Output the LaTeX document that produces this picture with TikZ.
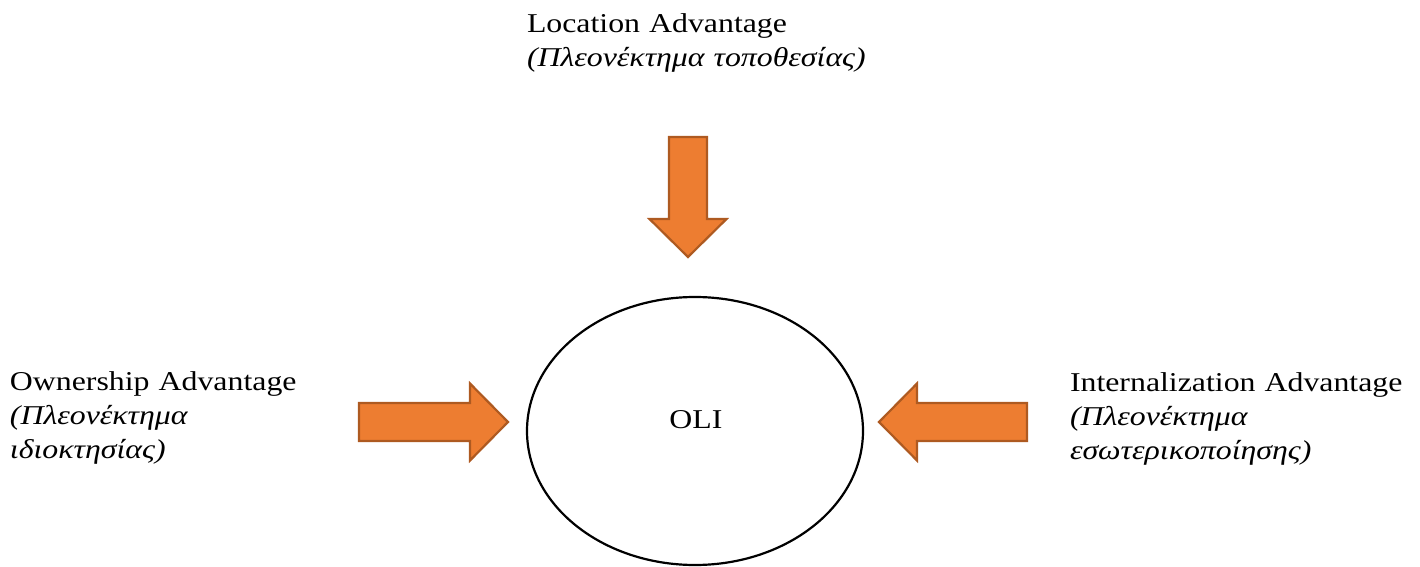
\documentclass[tikz,border=0pt]{standalone}
\usepackage{fontspec}
\setmainfont[FakeStretch=1.17]{Liberation Serif}
\usetikzlibrary{calc,positioning,shapes.geometric}
\definecolor{arrfill}{RGB}{237,125,49}
\definecolor{arrline}{RGB}{174,90,33}

\begin{document}
\begin{tikzpicture}
    [x=0.5pt,y=-0.5pt,
     font=\fontsize{13.6}{17}\selectfont,
     lbl/.style={inner sep=0,outer sep=0,anchor=base west,
                 align=left,text width=200pt},
     blk/.style={fill=arrfill,draw=arrline,line width=1.1pt},
     oval/.style={ellipse,draw,line width=1.1pt,minimum width=168pt,
                  minimum height=134pt,inner sep=0}]
    \def\blockarrow#1#2{%
      \coordinate (h) at ($(#2)!19pt!(#1)$);
      \draw[blk] ($(#1)!9.5pt!90:(#2)$) -- ($(h)!9.5pt!90:(#2)$)
        -- ($(h)!19.25pt!90:(#2)$) -- (#2) -- ($(h)!19.25pt!-90:(#2)$)
        -- ($(h)!9.5pt!-90:(#2)$) -- ($(#1)!9.5pt!-90:(#2)$) -- cycle;}

    \useasboundingbox (0,0) rectangle (1420,567);

    \node[oval] (oli) at (695,431) {};
    \node[inner sep=0,anchor=base] (olitxt) at (696,428) {OLI};

    \node[lbl] (loc) at (527,33)
      {Location Advantage\\\itshape(Πλεονέκτημα τοποθεσίας)};
    \node[lbl] (own) at (10,390)
      {Ownership Advantage\\\itshape(Πλεονέκτημα\\\itshape ιδιοκτησίας)};
    \node[lbl] (int) at (1070,391)
      {Internalization Advantage\\\itshape(Πλεονέκτημα\\\itshape εσωτερικοποίησης)};

    \coordinate (ltail) at (688,137);
    \coordinate (ltip)  at (688,257);
    \coordinate (otail) at (359,422);
    \coordinate (otip)  at (508,422);
    \coordinate (itail) at (1027,422);
    \coordinate (itip)  at (879,422);

    \blockarrow{ltail}{ltip}
    \blockarrow{otail}{otip}
    \blockarrow{itail}{itip}
\end{tikzpicture}
\end{document}
